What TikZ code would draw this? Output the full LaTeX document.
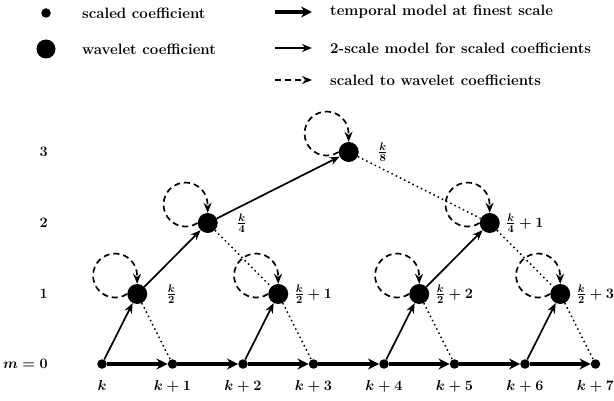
\documentclass[tikz,border=0pt]{standalone}
\usepackage{amsmath}
\usetikzlibrary{arrows.meta, positioning}

\begin{document}
\begin{tikzpicture}[
    x=1pt, y=-1pt,
    font=\fontsize{15}{17}\selectfont\bfseries\boldmath,
    scaled/.style={circle, fill=black, inner sep=0pt, minimum size=9.5pt},
    wavelet/.style={circle, fill=black, inner sep=0pt, minimum size=20pt},
    lbl/.style={inner sep=0pt},
    temporal/.style={line width=4.8pt, -{Stealth[length=11pt, width=11pt]}},
    twoscale/.style={line width=1.7pt, -{Stealth[length=10pt, width=8pt]}},
    toscale/.style={line width=1.7pt, dash pattern=on 6pt off 4pt, -{Stealth[length=10pt, width=8pt]}},
    detail/.style={line width=1.5pt, dash pattern=on 1.5pt off 3.2pt},
    selfloop/.style={toscale, to path={(\tikztostart.west) arc[start angle=-57, end angle=-360, radius=22pt] -- (\tikztostart.north)}}
]
\useasboundingbox (0,0) rectangle (614,401);

% Legend
\node[scaled] (keyscaled) at (46,13) {};
\node[lbl, anchor=west] (txtscaled) at (82,13) {scaled coefficient};
\node[wavelet, minimum size=19pt] (keywavelet) at (46,49) {};
\node[lbl, anchor=west] (txtwavelet) at (82,49) {wavelet coefficient};
\coordinate (keyta) at (275,12);
\coordinate (keytb) at (312,12);
\node[lbl, anchor=west] (txttemporal) at (330,12) {temporal model at finest scale};
\coordinate (keysa) at (275,48);
\coordinate (keysb) at (312,48);
\node[lbl, anchor=west] (txttwoscale) at (330,48) {2-scale model for scaled coefficients};
\coordinate (keywa) at (275,80);
\coordinate (keywb) at (312,80);
\node[lbl, anchor=west] (txttoscale) at (330,80) {scaled to wavelet coefficients};
\draw[temporal] (keyta) -- (keytb);
\draw[twoscale] (keysa) -- (keysb);
\draw[toscale] (keywa) -- (keywb);

% Scale axis
\node[lbl, anchor=east] (m0) at (48,364) {$m=0$};
\node[lbl, anchor=east] (m1) at (48,294) {$1$};
\node[lbl, anchor=east] (m2) at (48,223) {$2$};
\node[lbl, anchor=east] (m3) at (48,152) {$3$};

% Scaled coefficients, m=0
\node[scaled] (s0) at (102,364) {};
\node[scaled] (s1) at (172.5,364) {};
\node[scaled] (s2) at (243,364) {};
\node[scaled] (s3) at (313.5,364) {};
\node[scaled] (s4) at (384,364) {};
\node[scaled] (s5) at (454.5,364) {};
\node[scaled] (s6) at (525,364) {};
\node[scaled] (s7) at (595.5,364) {};

\node[lbl, below=11pt of s0] (ls0) {$k$};
\node[lbl, below=11pt of s1] (ls1) {$k+1$};
\node[lbl, below=11pt of s2] (ls2) {$k+2$};
\node[lbl, below=11pt of s3] (ls3) {$k+3$};
\node[lbl, below=11pt of s4] (ls4) {$k+4$};
\node[lbl, below=11pt of s5] (ls5) {$k+5$};
\node[lbl, below=11pt of s6] (ls6) {$k+6$};
\node[lbl, below=11pt of s7] (ls7) {$k+7$};

% Wavelet coefficients
\node[wavelet] (w1a) at (137.25,294) {};
\node[wavelet] (w1b) at (278.25,294) {};
\node[wavelet] (w1c) at (419.25,294) {};
\node[wavelet] (w1d) at (560.25,294) {};
\node[wavelet] (w2a) at (207.75,223) {};
\node[wavelet] (w2b) at (489.75,223) {};
\node[wavelet] (w3) at (348.75,152) {};

\node[lbl, right=19pt of w1a] (lw1a) {$\frac{k}{2}$};
\node[lbl, right=6pt of w1b] (lw1b) {$\frac{k}{2}+1$};
\node[lbl, right=6pt of w1c] (lw1c) {$\frac{k}{2}+2$};
\node[lbl, right=6pt of w1d] (lw1d) {$\frac{k}{2}+3$};
\node[lbl, right=19pt of w2a] (lw2a) {$\frac{k}{4}$};
\node[lbl, right=6pt of w2b] (lw2b) {$\frac{k}{4}+1$};
\node[lbl, right=19pt of w3] (lw3) {$\frac{k}{8}$};

% Temporal model at finest scale
\draw[temporal] (s0) -- (s1);
\draw[temporal] (s1) -- (s2);
\draw[temporal] (s2) -- (s3);
\draw[temporal] (s3) -- (s4);
\draw[temporal] (s4) -- (s5);
\draw[temporal] (s5) -- (s6);
\draw[temporal] (s6) -- (s7);

% 2-scale model
\draw[twoscale] (s0) -- (w1a);
\draw[twoscale] (s2) -- (w1b);
\draw[twoscale] (s4) -- (w1c);
\draw[twoscale] (s6) -- (w1d);
\draw[twoscale] (w1a) -- (w2a);
\draw[twoscale] (w1c) -- (w2b);
\draw[twoscale] (w2a) -- (w3);

% Detail links
\draw[detail] (w1a) -- (s1);
\draw[detail] (w1b) -- (s3);
\draw[detail] (w1c) -- (s5);
\draw[detail] (w1d) -- (s7);
\draw[detail] (w2a) -- (w1b);
\draw[detail] (w2b) -- (w1d);
\draw[detail] (w3) -- (w2b);

% Scaled to wavelet
\draw[selfloop] (w1a) to (w1a);
\draw[selfloop] (w1b) to (w1b);
\draw[selfloop] (w1c) to (w1c);
\draw[selfloop] (w1d) to (w1d);
\draw[selfloop] (w2a) to (w2a);
\draw[selfloop] (w2b) to (w2b);
\draw[selfloop] (w3) to (w3);

\end{tikzpicture}
\end{document}
